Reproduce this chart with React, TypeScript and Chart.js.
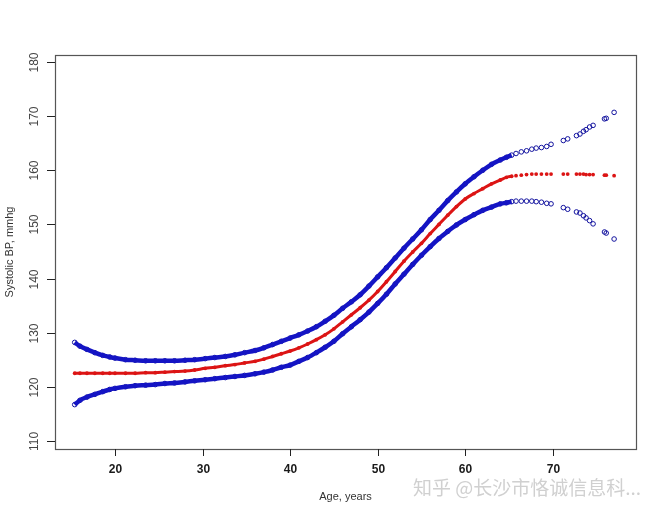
import { useEffect, useRef } from "react";
import { Chart, registerables, type ChartConfiguration, type Plugin } from "chart.js";

Chart.register(...registerables);

// ages of the plotted observations (years)
const ages = [
  15.4, 16.0, 16.8, 17.7, 18.6, 19.4, 20.0, 21.2, 22.3, 23.5, 24.6, 25.7, 26.8, 28.0, 29.1,
  30.3, 31.4, 32.6, 33.7, 34.8, 36.0, 37.0, 38.0, 39.0, 40.0, 41.0, 42.0, 43.0, 44.0, 45.0,
  46.0, 47.0, 48.0, 49.0, 50.0, 51.0, 52.0, 53.0, 54.0, 55.0, 56.0, 57.0, 58.0, 59.0, 60.0,
  61.0, 62.0, 63.0, 64.0, 64.7, 65.3, 65.8, 66.4, 67.0, 67.6, 68.1, 68.7, 69.3, 69.8, 71.2,
  71.7, 72.7, 73.1, 73.5, 73.8, 74.2, 74.6, 75.9, 76.1, 77.0,
];

const upperBP = [
  128.2, 127.5, 126.9, 126.3, 125.8, 125.5, 125.3, 125.0, 124.9, 124.8, 124.8, 124.8, 124.8, 124.9, 125.0,
  125.2, 125.4, 125.6, 125.9, 126.3, 126.7, 127.2, 127.8, 128.4, 129.0, 129.6, 130.3, 131.1, 132.1, 133.2,
  134.5, 135.7, 137.0, 138.6, 140.3, 142.0, 143.8, 145.6, 147.3, 149.0, 150.9, 152.6, 154.4, 156.0, 157.5,
  158.8, 160.0, 161.1, 161.9, 162.4, 162.8, 163.1, 163.4, 163.6, 163.9, 164.1, 164.2, 164.4, 164.8, 165.5,
  165.8, 166.4, 166.7, 167.2, 167.5, 168.0, 168.3, 169.5, 169.6, 170.7,
];

const meanBP = [
  122.5, 122.5, 122.5, 122.5, 122.5, 122.5, 122.5, 122.5, 122.5, 122.6, 122.6, 122.7, 122.8, 122.9, 123.1,
  123.4, 123.6, 123.9, 124.1, 124.4, 124.7, 125.1, 125.6, 126.1, 126.6, 127.2, 127.9, 128.7, 129.6, 130.7,
  132.0, 133.3, 134.6, 136.0, 137.6, 139.4, 141.3, 143.2, 144.9, 146.5, 148.3, 150.0, 151.7, 153.3, 154.7,
  155.7, 156.6, 157.5, 158.2, 158.7, 158.9, 159.0, 159.1, 159.2, 159.3, 159.3, 159.3, 159.3, 159.3, 159.3,
  159.3, 159.3, 159.3, 159.3, 159.2, 159.2, 159.2, 159.1, 159.1, 159.0,
];

const lowerBP = [
  116.7, 117.5, 118.1, 118.6, 119.1, 119.5, 119.7, 120.0, 120.2, 120.3, 120.4, 120.6, 120.7, 120.9, 121.1,
  121.3, 121.5, 121.7, 121.9, 122.1, 122.4, 122.7, 123.1, 123.6, 124.0, 124.7, 125.4, 126.3, 127.3, 128.4,
  129.8, 131.1, 132.4, 133.8, 135.4, 137.1, 139.0, 140.8, 142.6, 144.3, 145.9, 147.4, 148.7, 149.9, 150.9,
  151.8, 152.6, 153.2, 153.8, 154.0, 154.2, 154.3, 154.3, 154.3, 154.3, 154.2, 154.1, 153.9, 153.8, 153.1,
  152.8, 152.3, 152.1, 151.6, 151.2, 150.7, 150.1, 148.6, 148.4, 147.3,
];

const xTicks = [20, 30, 40, 50, 60, 70];
const yTicks = [110, 120, 130, 140, 150, 160, 170, 180];

// dense part of the sample, where the points merge into a band
const BAND_END_AGE = 65;

const BLUE = "#1414c4";
const NAVY = "#12129e";
const RED = "#dc1414";

const toPoints = (ys: number[]) => ages.map((x, i) => ({ x, y: ys[i] }));
const toBand = (ys: number[]) =>
  ages.map((x, i) => ({ x, y: ys[i] })).filter((p) => p.x <= BAND_END_AGE + 0.5);

const axesPlugin: Plugin<"scatter"> = {
  id: "rAxes",
  afterDraw(chart) {
    const { ctx, chartArea } = chart;
    const xs = chart.scales.x;
    const ys = chart.scales.y;
    const { left, right, top, bottom } = chartArea;
    ctx.save();

    ctx.strokeStyle = "#555555";
    ctx.lineWidth = 1.2;
    ctx.strokeRect(Math.round(left) + 0.5, Math.round(top) + 0.5, right - left, bottom - top);

    ctx.strokeStyle = "#222222";
    ctx.lineWidth = 1;
    ctx.fillStyle = "#1a1a1a";
    ctx.font = "bold 12px 'Liberation Sans', Arial, sans-serif";
    ctx.textAlign = "center";
    ctx.textBaseline = "middle";
    for (const v of xTicks) {
      const px = Math.round(xs.getPixelForValue(v)) + 0.5;
      ctx.beginPath();
      ctx.moveTo(px, bottom);
      ctx.lineTo(px, bottom + 7);
      ctx.stroke();
      ctx.fillText(String(v), px, bottom + 21);
    }

    ctx.fillStyle = "#444444";
    ctx.font = "12px 'Liberation Sans', Arial, sans-serif";
    for (const v of yTicks) {
      const py = Math.round(ys.getPixelForValue(v)) + 0.5;
      ctx.beginPath();
      ctx.moveTo(left - 8, py);
      ctx.lineTo(left, py);
      ctx.stroke();
      ctx.save();
      ctx.translate(35, py);
      ctx.rotate(-Math.PI / 2);
      ctx.fillText(String(v), 0, 0);
      ctx.restore();
    }

    ctx.fillStyle = "#333333";
    ctx.font = "11px 'Liberation Sans', Arial, sans-serif";
    ctx.fillText("Age, years", (left + right) / 2, 497);
    ctx.save();
    ctx.translate(10, (top + bottom) / 2);
    ctx.rotate(-Math.PI / 2);
    ctx.fillText("Systolic BP, mmhg", 0, 0);
    ctx.restore();

    ctx.fillStyle = "#d0d0d0";
    ctx.font = "19px 'Noto Sans CJK SC', sans-serif";
    ctx.textAlign = "left";
    ctx.fillText("知乎 @长沙市恪诚信息科...", 413, 488);

    ctx.restore();
  },
};

export default function App() {
  const canvasRef = useRef<HTMLCanvasElement | null>(null);
  const chartRef = useRef<Chart<"scatter"> | null>(null);

  useEffect(() => {
    const canvas = canvasRef.current;
    if (!canvas) return;

    const bandStyle = (color: string, width: number) => ({
      showLine: true,
      borderColor: color,
      borderWidth: width,
      pointRadius: 0,
      cubicInterpolationMode: "monotone" as const,
    });

    const config: ChartConfiguration<"scatter"> = {
      type: "scatter",
      data: {
        datasets: [
          { label: "upper band", data: toBand(upperBP), ...bandStyle(BLUE, 4.5) },
          { label: "lower band", data: toBand(lowerBP), ...bandStyle(BLUE, 4.5) },
          { label: "mean band", data: toBand(meanBP), ...bandStyle(RED, 3) },
          {
            label: "Upper 95% CI",
            data: toPoints(upperBP),
            pointRadius: 2.3,
            borderWidth: 1,
            borderColor: NAVY,
            backgroundColor: "rgba(0,0,0,0)",
          },
          {
            label: "Lower 95% CI",
            data: toPoints(lowerBP),
            pointRadius: 2.3,
            borderWidth: 1,
            borderColor: NAVY,
            backgroundColor: "rgba(0,0,0,0)",
          },
          {
            label: "Systolic BP",
            data: toPoints(meanBP),
            pointRadius: 1.9,
            borderWidth: 0,
            backgroundColor: RED,
          },
        ],
      },
      options: {
        responsive: true,
        maintainAspectRatio: false,
        animation: false,
        layout: { padding: { left: 55, right: 28, top: 55, bottom: 68 } },
        scales: {
          x: { type: "linear", min: 13.15, max: 79.5, display: false },
          y: { type: "linear", min: 108.5, max: 181.3, display: false },
        },
        plugins: {
          legend: { display: false },
          tooltip: { enabled: false },
        },
      },
      plugins: [axesPlugin],
    };

    chartRef.current = new Chart(canvas, config);
    return () => {
      if (chartRef.current) {
        chartRef.current.destroy();
        chartRef.current = null;
      }
    };
  }, []);

  return (
    <div style={{ position: "fixed", left: 0, top: 0, width: 664, height: 517, background: "#ffffff" }}>
      <canvas ref={canvasRef} />
    </div>
  );
}
